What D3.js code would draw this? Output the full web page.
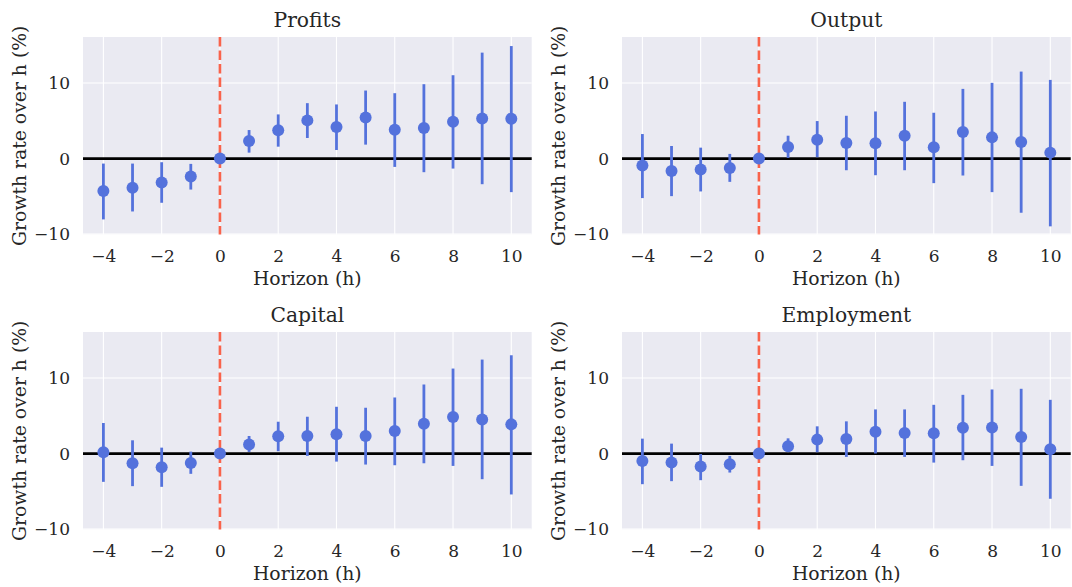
<!DOCTYPE html>
<html>
<head>
<meta charset="utf-8">
<script src="https://cdn.jsdelivr.net/npm/d3@7"></script>
<style>
  html, body { margin: 0; padding: 0; background: #fff; }
  svg { display: block; font-family: "DejaVu Serif", serif; }
</style>
</head>
<body>
<div id="chart"></div>
<script>
// event-study estimates by horizon
const horizons = [-4, -3, -2, -1, 0, 1, 2, 3, 4, 5, 6, 7, 8, 9, 10];
const xTicks = [-4, -2, 0, 2, 4, 6, 8, 10];
const yTicks = [-10, 0, 10];

const panelTitles = ['Profits', 'Output', 'Capital', 'Employment'];

const profitsCoef  = [-4.3, -3.87, -3.17, -2.37, 0, 2.33, 3.74, 5.06, 4.18, 5.45, 3.83, 4.05, 4.88, 5.32, 5.28];
const profitsLower = [-8.05, -7.0, -5.85, -4.1, 0, 0.79, 1.58, 2.73, 1.14, 1.85, -1.1, -1.8, -1.32, -3.39, -4.44];
const profitsUpper = [-0.66, -0.66, -0.48, -0.7, 0, 3.78, 5.85, 7.34, 7.17, 9.01, 8.66, 9.85, 11.04, 14.03, 14.9];

const outputCoef  = [-0.92, -1.63, -1.45, -1.23, 0, 1.54, 2.5, 2.07, 2.02, 3.03, 1.5, 3.52, 2.81, 2.2, 0.79];
const outputLower = [-5.23, -4.97, -4.35, -3.08, 0, 0.09, 0.18, -1.54, -2.2, -1.54, -3.25, -2.24, -4.44, -7.17, -8.97];
const outputUpper = [3.25, 1.67, 1.45, 0.62, 0, 3.03, 4.97, 5.67, 6.24, 7.52, 6.07, 9.23, 10.03, 11.52, 10.42];

const capitalCoef  = [0.18, -1.28, -1.8, -1.23, 0, 1.19, 2.29, 2.33, 2.55, 2.33, 2.99, 3.96, 4.84, 4.53, 3.87];
const capitalLower = [-3.74, -4.31, -4.4, -2.68, 0, 0.22, 0.31, -0.31, -1.06, -1.45, -1.54, -1.28, -1.63, -3.39, -5.41];
const capitalUpper = [4.05, 1.76, 0.79, 0.26, 0, 2.33, 4.22, 4.88, 6.2, 6.07, 7.43, 9.15, 11.26, 12.45, 13.02];

const employmentCoef  = [-0.97, -1.19, -1.72, -1.41, 0, 0.97, 1.85, 1.93, 2.9, 2.73, 2.68, 3.43, 3.47, 2.2, 0.57];
const employmentLower = [-4.05, -3.65, -3.52, -2.51, 0, 0.35, 0.18, -0.44, 0.02, -0.44, -1.19, -0.88, -1.63, -4.27, -5.98];
const employmentUpper = [1.98, 1.32, -0.05, -0.31, 0, 2.02, 3.61, 4.27, 5.85, 5.85, 6.46, 7.78, 8.49, 8.58, 7.12];

const series = [
    [profitsCoef, profitsLower, profitsUpper],
    [outputCoef, outputLower, outputUpper],
    [capitalCoef, capitalLower, capitalUpper],
    [employmentCoef, employmentLower, employmentUpper]
];

const W = 1072, H = 587;
const colLeft = [83, 622];
const rowTop = [37, 332];
const plotW = 448.7, plotH = 197.5;

const pointColor = '#5472dc';
const eventColor = '#f9634b';

const svg = d3.select('#chart').append('svg')
    .attr('width', W)
    .attr('height', H);

series.forEach((s, i) => {
    const [coef, lower, upper] = s;
    const col = i % 2, row = Math.floor(i / 2);
    const g = svg.append('g')
        .attr('transform', `translate(${colLeft[col]},${rowTop[row]})`);

    const x = d3.scaleLinear().domain([-4.7, 10.7]).range([0, plotW]);
    const y = d3.scaleLinear().domain([-10.05, 16.1]).range([plotH, 0]);

    // background
    g.append('rect')
        .attr('width', plotW)
        .attr('height', plotH)
        .attr('fill', '#eaeaf2');

    // grid
    g.append('g').selectAll('line')
        .data(xTicks)
        .join('line')
        .attr('x1', d => x(d)).attr('x2', d => x(d))
        .attr('y1', 0).attr('y2', plotH)
        .attr('stroke', '#fff')
        .attr('stroke-width', 1.1);
    g.append('g').selectAll('line')
        .data(yTicks)
        .join('line')
        .attr('x1', 0).attr('x2', plotW)
        .attr('y1', d => y(d)).attr('y2', d => y(d))
        .attr('stroke', '#fff')
        .attr('stroke-width', 1.1);

    // axes (no tick marks, labels only)
    const xAxis = g.append('g')
        .attr('transform', `translate(0,${plotH})`)
        .call(d3.axisBottom(x).tickValues(xTicks).tickSize(0).tickPadding(15)
            .tickFormat(d => d < 0 ? '\u2212' + Math.abs(d) : d));
    const yAxis = g.append('g')
        .call(d3.axisLeft(y).tickValues(yTicks).tickSize(0).tickPadding(13)
            .tickFormat(d => d < 0 ? '\u2212' + Math.abs(d) : d));
    [xAxis, yAxis].forEach(a => {
        a.select('.domain').remove();
        a.selectAll('text')
            .attr('fill', '#262626')
            .style('font-family', '"DejaVu Serif", serif')
            .style('font-size', '17px');
    });

    // zero line
    g.append('line')
        .attr('x1', 0).attr('x2', plotW)
        .attr('y1', y(0)).attr('y2', y(0))
        .attr('stroke', '#000')
        .attr('stroke-width', 2.8);

    // treatment line
    g.append('line')
        .attr('x1', x(0)).attr('x2', x(0))
        .attr('y1', 0).attr('y2', plotH)
        .attr('stroke', eventColor)
        .attr('stroke-width', 2.6)
        .attr('stroke-dasharray', '9.5,4');

    // confidence intervals
    g.append('g').selectAll('line')
        .data(horizons.map((h, k) => ({ h, lo: lower[k], hi: upper[k] })))
        .join('line')
        .attr('x1', d => x(d.h)).attr('x2', d => x(d.h))
        .attr('y1', d => y(d.lo)).attr('y2', d => y(d.hi))
        .attr('stroke', pointColor)
        .attr('stroke-width', 2.8);

    // point estimates
    g.append('g').selectAll('circle')
        .data(horizons.map((h, k) => ({ h, v: coef[k] })))
        .join('circle')
        .attr('cx', d => x(d.h))
        .attr('cy', d => y(d.v))
        .attr('r', 6)
        .attr('fill', pointColor);

    // title
    g.append('text')
        .attr('x', plotW / 2)
        .attr('y', -10)
        .attr('text-anchor', 'middle')
        .attr('fill', '#262626')
        .style('font-size', '20.3px')
        .text(panelTitles[i]);

    // x label
    g.append('text')
        .attr('x', plotW / 2)
        .attr('y', plotH + 50)
        .attr('text-anchor', 'middle')
        .attr('fill', '#262626')
        .style('font-size', '18.8px')
        .text('Horizon (h)');

    // y label
    g.append('text')
        .attr('transform', `translate(${-57},${plotH / 2}) rotate(-90)`)
        .attr('text-anchor', 'middle')
        .attr('fill', '#262626')
        .style('font-size', '18.8px')
        .text('Growth rate over h (%)');
});
</script>
</body>
</html>
